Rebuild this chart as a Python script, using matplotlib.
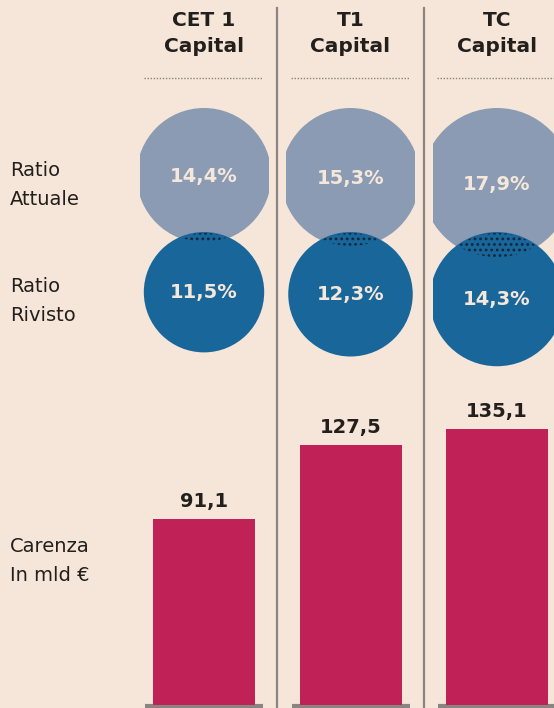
import matplotlib
matplotlib.use("Agg")
import matplotlib.pyplot as plt
from matplotlib.patches import Circle, Rectangle
import numpy as np

# ---- data ----
columns = ["CET 1\nCapital", "T1\nCapital", "TC\nCapital"]
ratio_attuale = [14.4, 15.3, 17.9]
ratio_rivisto = [11.5, 12.3, 14.3]
carenza = [91.1, 127.5, 135.1]
row_labels = ["Ratio\nAttuale", "Ratio\nRivisto", "Carenza\nIn mld €"]

def fmt(v, pct=False):
    s = f"{v:.1f}".replace(".", ",")
    return s + ("%" if pct else "")

# ---- style ----
BG = "#f5e6d9"
C_UP = "#8a9bb3"
C_LO = "#19669a"
C_BAR = "#c02257"
C_TXT = "#231f1c"
C_CREAM = "#f5e8da"
C_GREY = "#8a8580"
plt.rcParams["hatch.linewidth"] = 1.2

W, H = 554, 708
fig = plt.figure(figsize=(W / 100, H / 100), dpi=100, facecolor=BG)

# pixel-coordinate overlay axes
ax = fig.add_axes([0, 0, 1, 1])
ax.set_xlim(0, W)
ax.set_ylim(H, 0)
ax.axis("off")
ax.set_facecolor(BG)

x0, step = 204, 146.5
centers = [x0 + step * i for i in range(len(columns))]

# separators
for i in range(1, len(columns)):
    xs = (centers[i - 1] + centers[i]) / 2
    ax.plot([xs, xs], [8, H], color=C_GREY, lw=1.6, zorder=1)

# headers and dotted rules
for cx, lab in zip(centers, columns):
    l1, l2 = lab.split("\n")
    ax.text(cx, 21, l1, ha="center", va="center", fontsize=14.5,
            fontweight="bold", color=C_TXT)
    ax.text(cx, 47, l2, ha="center", va="center", fontsize=14.5,
            fontweight="bold", color=C_TXT)
    ax.plot([cx - 60, min(cx + 59, W)], [78, 78], color=C_GREY, lw=1.0,
            ls=(0, (1, 1.2)), zorder=2)

# row labels (two lines each)
for lab, ymid in zip(row_labels, [185, 301, 561]):
    a, b = lab.split("\n")
    ax.text(10, ymid - 14.5, a, ha="left", va="center", fontsize=14,
            color=C_TXT)
    ax.text(10, ymid + 14.5, b, ha="left", va="center", fontsize=14,
            color=C_TXT)

# circles: radius ~ sqrt(value)
k = 17.75
top_up, top_lo = 108, 232
for cx, vu, vl in zip(centers, ratio_attuale, ratio_rivisto):
    ru = k * np.sqrt(vu)
    rl = k * np.sqrt(vl)
    cyu = top_up + ru
    cyl = top_lo + rl
    clip = Rectangle((cx - 64.5, 0), 129, H, transform=ax.transData)
    cu = Circle((cx, cyu), ru, facecolor=C_UP, edgecolor="none", zorder=3)
    ax.add_patch(cu)
    cu.set_clip_path(clip)
    clip2 = Rectangle((cx - 64.5, 0), 129, H, transform=ax.transData)
    cl = Circle((cx, cyl), rl, facecolor=C_LO, edgecolor="none", zorder=4)
    ax.add_patch(cl)
    cl.set_clip_path(clip2)
    lens = Circle((cx, cyu), ru - 1, facecolor="none", edgecolor="#13263a",
                  hatch="...", lw=0, zorder=5)
    ax.add_patch(lens)
    lens.set_clip_path(Circle((cx, cyl), rl - 1, transform=ax.transData))
    ax.text(cx, cyu + 1, fmt(vu, True), ha="center", va="center",
            fontsize=14, fontweight="bold", color=C_CREAM, zorder=6)
    ax.text(cx, cyl, fmt(vl, True), ha="center", va="center",
            fontsize=14, fontweight="bold", color=C_CREAM, zorder=6)

# bars axes (value scale: ~2.04 px per unit)
bar_bottom_px, bar_top_px = 705, 395
px_per_unit = 2.04
bax = fig.add_axes([0, 1 - bar_bottom_px / H, 1, (bar_bottom_px - bar_top_px) / H])
bax.set_xlim(-x0 / step, (W - x0) / step)
bax.set_ylim(0, (bar_bottom_px - bar_top_px) / px_per_unit)
bax.axis("off")
bax.patch.set_alpha(0)
xi = np.arange(len(carenza))
bax.bar(xi, carenza, width=102 / step, color=C_BAR, edgecolor="none", zorder=3)
for x, v in zip(xi, carenza):
    bax.text(x, v + 4, fmt(v), ha="center", va="bottom", fontsize=14,
             fontweight="bold", color=C_TXT)

# baselines
for cx in centers:
    ax.plot([cx - 59, min(cx + 59, W)], [706, 706], color=C_GREY, lw=3,
            solid_capstyle="butt", zorder=7)

fig.savefig("out.png", dpi=100, facecolor=BG)
